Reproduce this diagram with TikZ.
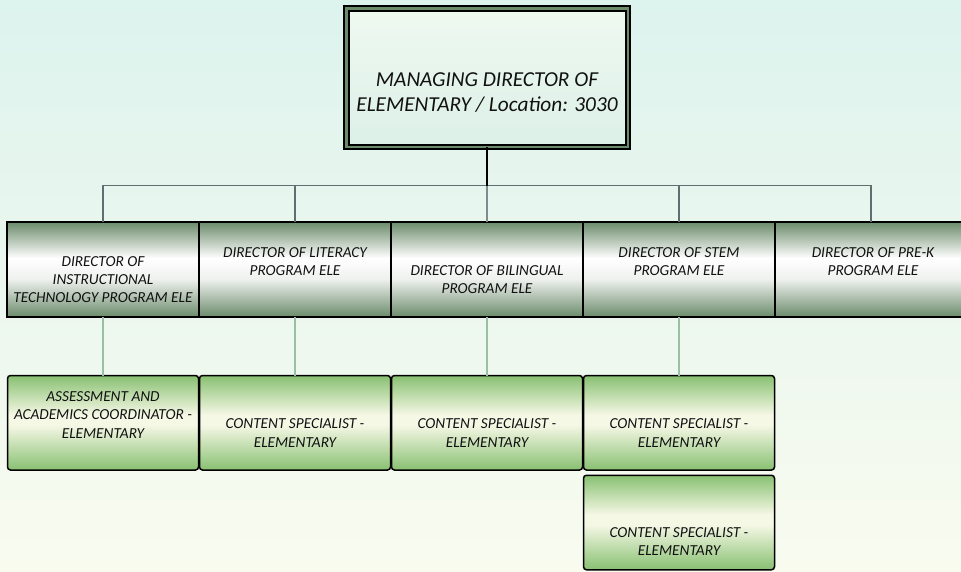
\documentclass[tikz,border=0pt]{standalone}
\usepackage{fontspec}
\setmainfont{Carlito}
\definecolor{bgtop}{HTML}{DDF3EE}
\definecolor{bgbot}{HTML}{F9FBEF}
\definecolor{dirdk}{HTML}{6B8B6B}
\definecolor{dirlt}{HTML}{EEF1EE}
\definecolor{subgr}{HTML}{88C072}
\definecolor{subcr}{HTML}{F6F8E6}
\definecolor{topa}{HTML}{EFF9F0}
\definecolor{topb}{HTML}{DCF0E8}
\definecolor{lnk}{HTML}{5F6F6F}
\definecolor{lnkb}{HTML}{9ABFA2}
\definecolor{txt}{HTML}{111111}
\pgfdeclareverticalshading{dirshade}{100bp}{color(0bp)=(dirdk); color(25bp)=(dirdk); color(45bp)=(dirlt); color(56bp)=(white); color(75bp)=(dirdk); color(100bp)=(dirdk)}
\pgfdeclareverticalshading{subshade}{100bp}{color(0bp)=(subgr); color(25bp)=(subgr); color(49bp)=(subcr); color(54bp)=(subcr); color(75bp)=(subgr); color(100bp)=(subgr)}
\tikzset{
  topbox/.style={draw=black, line width=2pt, double=dirdk, double distance=2.5pt,
    top color=topa, bottom color=topb, minimum width=281.5pt, minimum height=138.5pt,
    outer sep=0pt, inner sep=0pt},
  dirbox/.style={draw=black, line width=2pt, shading=dirshade, minimum width=192pt,
    minimum height=95pt, outer sep=0pt, inner sep=0pt},
  subbox/.style={draw=black, line width=1.5pt, rounded corners=3pt, shading=subshade,
    minimum width=191pt, minimum height=94.5pt, outer sep=0pt, inner sep=0pt},
  toptext/.style={align=center, text=txt, font=\fontsize{21.3}{25}\selectfont\itshape},
  boxtext/.style={align=center, text=txt, font=\fontsize{15.3}{18.3}\selectfont\itshape},
  busline/.style={draw=lnk, line width=1.3pt},
  subline/.style={draw=lnkb, line width=1.3pt},
}
\begin{document}
\begin{tikzpicture}[x=1pt, y=-1pt]
\useasboundingbox (0,0) rectangle (961,571);
\clip (0,0) rectangle (961,571);
\shade[top color=bgtop, bottom color=bgbot] (0,0) rectangle (961,571);

% top box
\node[topbox] (top) at (487,77.5) {};
\node[toptext] (ttop) at (487,93) {MANAGING DIRECTOR OF\\ELEMENTARY / Location: 3030};

% directors
\node[dirbox] (d1) at (103,269.5) {};
\node[dirbox] (d2) at (295,269.5) {};
\node[dirbox] (d3) at (487,269.5) {};
\node[dirbox] (d4) at (679,269.5) {};
\node[dirbox] (d5) at (871,269.5) {};
\node[boxtext] (td1) at (103,279.5) {DIRECTOR OF\\INSTRUCTIONAL\\TECHNOLOGY PROGRAM ELE};
\node[boxtext] (td2) at (295,261.5) {DIRECTOR OF LITERACY\\PROGRAM ELE};
\node[boxtext] (td3) at (487,279.5) {DIRECTOR OF BILINGUAL\\PROGRAM ELE};
\node[boxtext] (td4) at (679,261.5) {DIRECTOR OF STEM\\PROGRAM ELE};
\node[boxtext] (td5) at (873,261.5) {DIRECTOR OF PRE-K\\PROGRAM ELE};

% subordinates
\node[subbox] (s1) at (103,422.75) {};
\node[subbox] (s2) at (295,422.75) {};
\node[subbox] (s3) at (487,422.75) {};
\node[subbox] (s4) at (679,422.75) {};
\node[subbox] (s5) at (679,522.5) {};
\node[boxtext] (ts1) at (103,415) {ASSESSMENT AND\\ACADEMICS COORDINATOR -\\ELEMENTARY};
\node[boxtext] (ts2) at (295,433) {CONTENT SPECIALIST -\\ELEMENTARY};
\node[boxtext] (ts3) at (487,433) {CONTENT SPECIALIST -\\ELEMENTARY};
\node[boxtext] (ts4) at (679,433) {CONTENT SPECIALIST -\\ELEMENTARY};
\node[boxtext] (ts5) at (679,541.5) {CONTENT SPECIALIST -\\ELEMENTARY};

% connectors
\coordinate (bus) at (487,185.5);
\draw[busline] (d1.north) |- (bus) -| (d5.north);
\draw[busline] (d2.north) -- (d2.north |- bus);
\draw[busline, draw=lnk!80!white] (d3.north) -- (bus);
\draw[busline] (d4.north) -- (d4.north |- bus);
\draw[black, line width=2pt] (top.south) -- (bus);
\draw[subline] (d1.south) -- (s1.north);
\draw[subline] (d2.south) -- (s2.north);
\draw[subline] (d3.south) -- (s3.north);
\draw[subline] (d4.south) -- (s4.north);
\end{tikzpicture}
\end{document}
